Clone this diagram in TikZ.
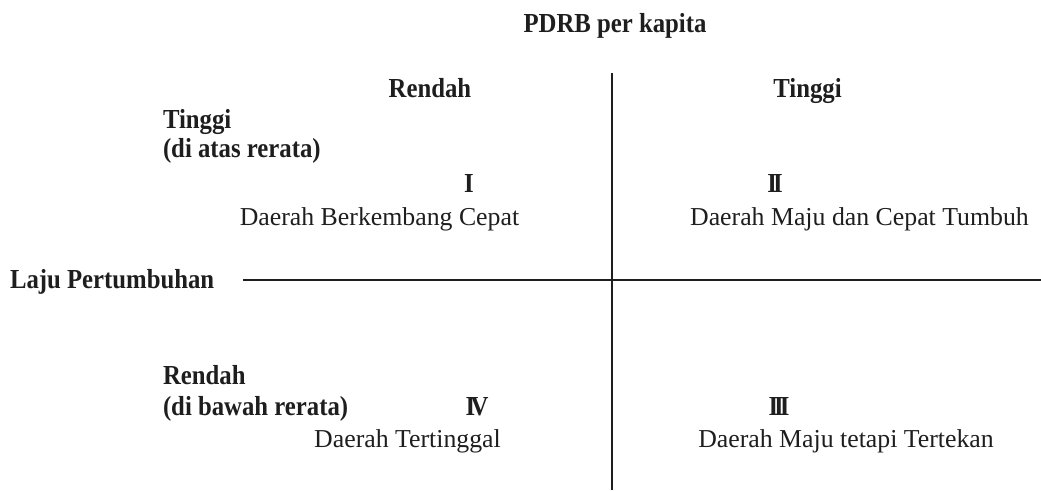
\documentclass[tikz,border=0pt]{standalone}
\usepackage{fontspec}
\setmainfont{Liberation Serif}[BoldFeatures={FakeStretch=0.9}]
\begin{document}
\begin{tikzpicture}[x=1pt,y=-1pt,
  every node/.style={inner sep=0pt,outer sep=0pt,text=ink},
  head/.style={font=\fontsize{27.5}{30}\selectfont\bfseries},
  region/.style={font=\fontsize{25.8}{29}\selectfont},
  axisline/.style={draw=ink,line width=2.4pt}]
\definecolor{ink}{HTML}{1E1E1E}
\useasboundingbox (0,0) rectangle (1041,490);

% column header and the two column classes
\node[head,anchor=base] (title) at (615,32) {PDRB per kapita};
\node[head,anchor=base] (colLow) at (430,97) {Rendah};
\node[head,anchor=base] (colHigh) at (807.5,97) {Tinggi};

% row classes
\node[head,anchor=base west] (rowHigh) at (163,128) {Tinggi};
\node[head,anchor=base west] (rowHighSub) at (163,157) {(di atas rerata)};
\node[head,anchor=base west] (axisLabel) at (10,288) {Laju Pertumbuhan};
\node[head,anchor=base west] (rowLow) at (163,384) {Rendah};
\node[head,anchor=base west] (rowLowSub) at (163,415) {(di bawah rerata)};

% quadrant numbers
\node[head,anchor=base] (q1num) at (469,192) {I};
\node[head,anchor=base] (q2num) at (775,192) {I\kern-4pt I};
\node[head,anchor=base] (q3num) at (779,415) {I\kern-4pt I\kern-4pt I};
\node[head,anchor=base] (q4num) at (477,415) {I\kern-4.5pt V};

% quadrant names
\node[region,anchor=base] (q1) at (379.5,225) {Daerah Berkembang Cepat};
\node[region,anchor=base] (q2) at (859.5,225) {Daerah Maju dan Cepat Tumbuh};
\node[region,anchor=base] (q3) at (846,447) {Daerah Maju tetapi Tertekan};
\node[region,anchor=base] (q4) at (407.5,447) {Daerah Tertinggal};

% the two axes
\coordinate (vTop) at (612,73);
\coordinate (vBottom) at (612,490);
\coordinate (hLeft) at (243,280);
\coordinate (hRight) at (1041,280);
\draw[axisline] (vTop) -- (vBottom);
\draw[axisline] (hLeft) -- (hRight);
\end{tikzpicture}
\end{document}
